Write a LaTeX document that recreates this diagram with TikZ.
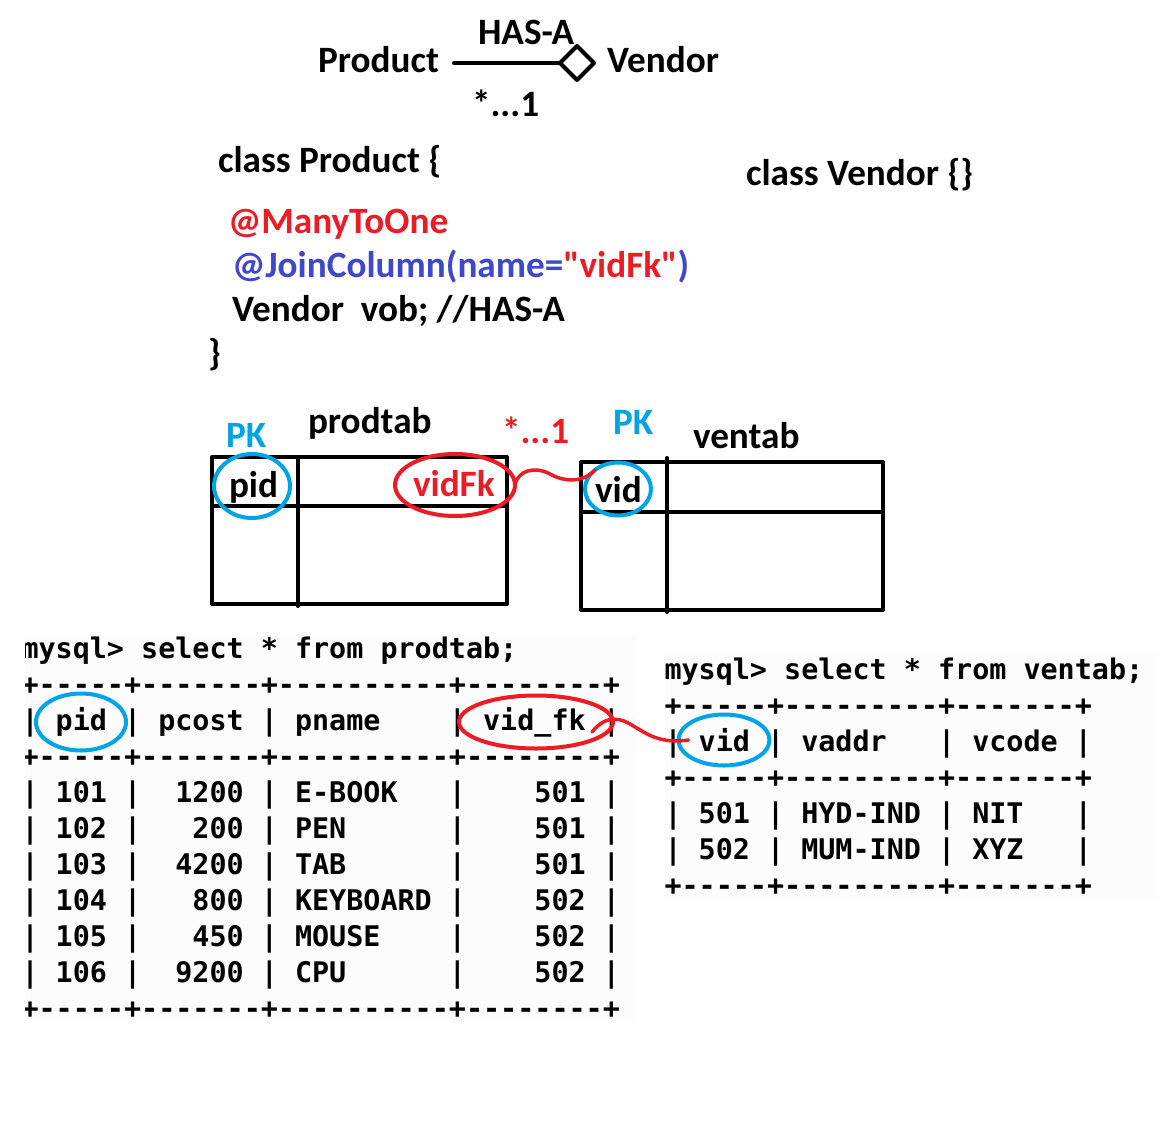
\documentclass[tikz,border=0pt]{standalone}
\usepackage{fontspec}
\setmainfont{Carlito}[Ligatures=TeXOff]
\newfontfamily\sqlfont{DejaVu Sans Mono}
\usetikzlibrary{shapes.geometric}
\definecolor{myred}{RGB}{237,28,36}
\definecolor{myblue}{RGB}{63,72,204}
\definecolor{mycyan}{RGB}{0,162,232}
\definecolor{shotbg}{RGB}{252,252,252}
\begin{document}
\begin{tikzpicture}[x=1pt, y=-1pt, line join=round, line cap=round,
	font=\bfseries\fontsize{37.2}{44}\selectfont, inner sep=0pt, outer sep=0pt,
	lbl/.style={anchor=base west},
	sqlrow/.style={anchor=base west, font=\sqlfont\bfseries\fontsize{28.4}{36}\selectfont},
	sketch/.style={line width=4pt},
	ring/.style={ellipse, draw=#1, line width=4pt},
	wiggle/.style={draw=myred, line width=3.5pt}]
	\useasboundingbox[fill=white] (0,0) rectangle (1170,1140);
	% HAS-A relation
	\node[lbl] (prod) at (318,73) {Product};
	\node[lbl] (vend) at (607,73) {Vendor};
	\node[diamond, draw, line width=4pt, minimum width=34pt, minimum height=34pt] (dia) at (577,63) {};
	\draw[line width=4pt] ([xshift=15pt]prod.east |- dia.west) -- (dia.west);
	\node[lbl] (hasa) at (478,45) {HAS-A};
	\node[lbl] (mult) at (472,116) {*...1};
	% classes
	\node[lbl] (cprod) at (218,172) {class Product \{};
	\node[lbl] (cvend) at (746,185) {class Vendor \{\}};
	\node[lbl, text=myred] (mto) at (228,233) {@ManyToOne};
	\node[lbl, text=myblue] (jcol) at (232,277) {@JoinColumn(name=\textcolor{myred}{"vidFk"})};
	\node[lbl] (field) at (232,321) {Vendor~~vob; //HAS-A};
	\node[lbl] (cend) at (208,365) {\}};
	% table sketches
	\draw[sketch] (212,457) rectangle (507,604) (298,457) -- (298,606) (212,506) -- (507,506);
	\draw[sketch] (581,462) rectangle (883,610) (667,458) -- (667,612) (581,512) -- (883,512);
	\node[lbl, text=mycyan] (pk1) at (226,447) {PK};
	\node[lbl] (tprod) at (308,433) {prodtab};
	\node[lbl, text=myred] (mult2) at (502,443) {*...1};
	\node[lbl, text=mycyan] (pk2) at (613,434) {PK};
	\node[lbl] (tvend) at (693,448) {ventab};
	\node[lbl] (pid1) at (229,497) {pid};
	\node[lbl, text=myred] (fk1) at (413,496) {vidFk};
	\node[lbl] (vid1) at (595,502) {vid};
	\node[ring=mycyan, minimum width=76pt, minimum height=64pt] (pkc1) at (252,486) {};
	\node[ring=myred, minimum width=120pt, minimum height=62pt] (fkc1) at (455,485) {};
	\node[ring=mycyan, minimum width=66pt, minimum height=53pt] (vc1) at (618,489) {};
	\draw[wiggle] (fkc1.east) .. controls (518,470) and (535,466) .. (550,474) .. controls (562,481) and (582,484) .. (vc1.140);
	% mysql output
	\fill[shotbg] (25,635) rectangle (637,1022);
	\fill[shotbg] (665,655) rectangle (1157,897);
	\begin{scope}
		\clip (25,635) rectangle (637,1022);
		\foreach \row [count=\i from 0] in {
			mysql>~select~*~from~prodtab;,
			+-----+-------+----------+--------+,
			|~pid~|~pcost~|~pname~~~~|~vid\_fk~|,
			+-----+-------+----------+--------+,
			|~101~|~~1200~|~E-BOOK~~~|~~~~501~|,
			|~102~|~~~200~|~PEN~~~~~~|~~~~501~|,
			|~103~|~~4200~|~TAB~~~~~~|~~~~501~|,
			|~104~|~~~800~|~KEYBOARD~|~~~~502~|,
			|~105~|~~~450~|~MOUSE~~~~|~~~~502~|,
			|~106~|~~9200~|~CPU~~~~~~|~~~~502~|,
			+-----+-------+----------+--------+}
		\node[sqlrow] (p\i) at (21.5,658+36*\i) {\row};
	\end{scope}
	\foreach \row [count=\i from 0] in {
		mysql>~select~*~from~ventab;,
		+-----+---------+-------+,
		|~vid~|~vaddr~~~|~vcode~|,
		+-----+---------+-------+,
		|~501~|~HYD-IND~|~NIT~~~|,
		|~502~|~MUM-IND~|~XYZ~~~|,
		+-----+---------+-------+}
	\node[sqlrow] (v\i) at (664.5,679+36.1*\i) {\row};
	\node[ring=mycyan, minimum width=90pt, minimum height=57pt] (pkc2) at (81,722) {};
	\node[ring=myred, minimum width=154pt, minimum height=53pt] (fkc2) at (536,722) {};
	\node[ring=mycyan, minimum width=91pt, minimum height=51pt] (vc2) at (724,740) {};
	\draw[wiggle] ([shift={(-21,10)}]fkc2.east) .. controls (600,722) and (610,716) .. (624,721) .. controls (642,729) and (654,745) .. ([xshift=10pt]vc2.west);
\end{tikzpicture}
\end{document}
